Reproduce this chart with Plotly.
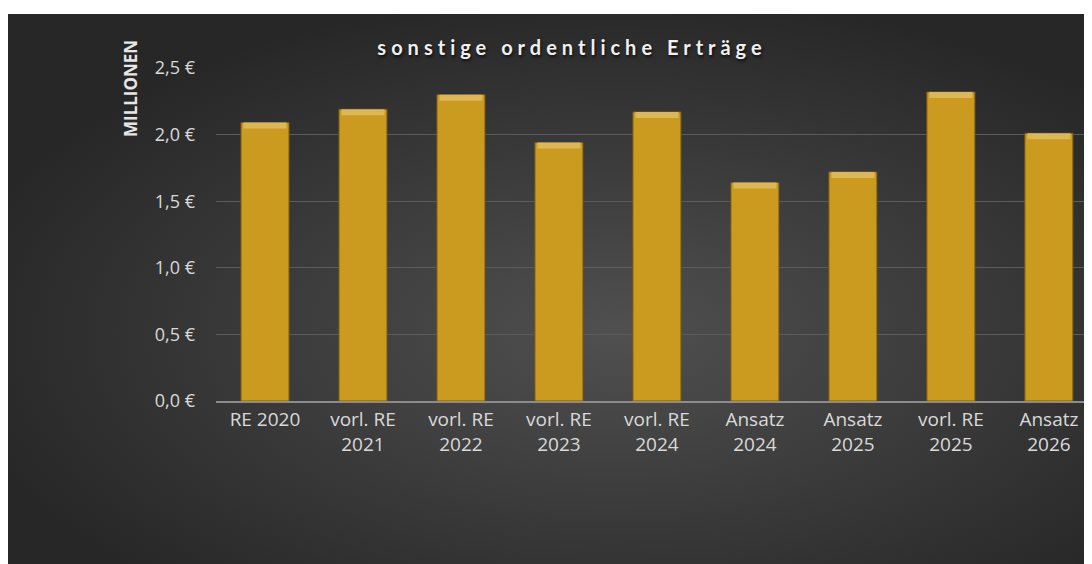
import base64
import plotly.graph_objects as go

# categories and values (Mio. EUR)
categories = ["RE 2020", "vorl. RE<br>2021", "vorl. RE<br>2022", "vorl. RE<br>2023",
              "vorl. RE<br>2024", "Ansatz<br>2024", "Ansatz<br>2025", "vorl. RE<br>2025",
              "Ansatz<br>2026"]
values = [2.09, 2.19, 2.30, 1.94, 2.17, 1.64, 1.72, 2.32, 2.01]

# page has an 8px body margin, so figure pixels = screen - 8
W, H = 1084, 556
L, R, T, B = 208, 0, 60, 163
pw, ph = W - L - R, H - T - B
top_pad = 6
bevel = 0.045

# dark radial background of the chart panel
svg = ("<svg xmlns='http://www.w3.org/2000/svg' width='1084' height='550' preserveAspectRatio='none'>"
       "<defs><radialGradient id='g' cx='0.56' cy='0.58' r='0.62'>"
       "<stop offset='0' stop-color='#505050'/><stop offset='1' stop-color='#272727'/>"
       "</radialGradient></defs><rect width='1084' height='550' fill='url(#g)'/></svg>")
bg = "data:image/svg+xml;base64," + base64.b64encode(svg.encode()).decode()

fig = go.Figure()
fig.add_trace(go.Bar(
    x=categories, y=values,
    marker=dict(color="#CB9B1F", line=dict(color="#7a5a10", width=1)),
    width=0.49,
))
# light bevel at the top of each bar
fig.add_trace(go.Bar(
    x=categories, y=[bevel] * len(values), base=[v - bevel for v in values],
    marker=dict(color="#DDB655", line=dict(width=0)),
    width=0.44, hoverinfo="skip",
))

fig.add_layout_image(dict(
    source=bg, xref="paper", yref="paper",
    x=-L / pw, y=(H - B - top_pad) / ph,
    sizex=W / pw, sizey=(H - top_pad) / ph,
    sizing="stretch", layer="below", xanchor="left", yanchor="top",
))

fig.add_annotation(text="<b>MILLIONEN</b>", textangle=-90, xref="paper", yref="paper",
                   x=(122 - L) / pw, y=(H - B - 81) / ph, showarrow=False,
                   xanchor="center", yanchor="middle",
                   font=dict(family="Open Sans", size=17, color="#e6e6e6"))

fig.update_layout(
    width=W, height=H,
    margin=dict(l=L, r=R, t=T, b=B),
    paper_bgcolor="white",
    plot_bgcolor="rgba(0,0,0,0)",
    title=dict(text="<b>sonstige ordentliche Erträge</b>", x=564 / W, xanchor="center",
               y=1 - 40 / H, yanchor="middle",
               font=dict(family="Lato", size=20, color="#f0f0f0")),
    separators=",.",
    showlegend=False,
    barmode="overlay",
)
fig.update_xaxes(range=[-0.5, 8.44], tickfont=dict(family="Open Sans", size=19, color="#d9d9d9"),
                 showline=True, linecolor="#8c8c8c", linewidth=2, showgrid=False, ticks="",
                 tickangle=0)
fig.update_yaxes(range=[0, 2.5], dtick=0.5, tickformat=".1f", ticksuffix=" €",
                 tickfont=dict(family="Open Sans", size=18, color="#d9d9d9"),
                 gridcolor="#5c5c5c", gridwidth=1, zeroline=False, ticklabelstandoff=20)

post = """
var t = document.querySelectorAll('.gtitle');
t.forEach(function(e){ e.style.letterSpacing='5px'; e.style.textShadow='1px 2px 3px rgba(0,0,0,0.7)'; });
"""
fig.write_html("out.html", post_script=post)
